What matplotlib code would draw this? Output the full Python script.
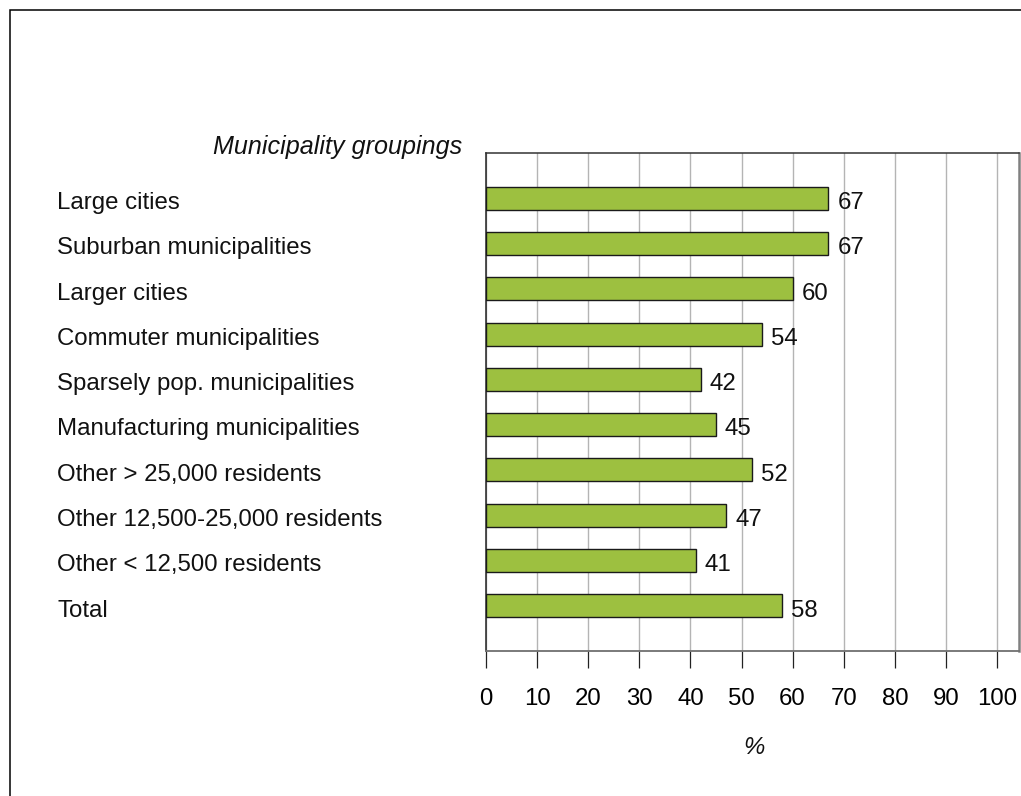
import matplotlib
matplotlib.use("Agg")
import matplotlib.pyplot as plt
from matplotlib.patches import Rectangle
from matplotlib.transforms import blended_transform_factory, offset_copy

plt.rcParams['font.family'] = ['Liberation Sans', 'DejaVu Sans']

categories = [
    "Large cities",
    "Suburban municipalities",
    "Larger cities",
    "Commuter municipalities",
    "Sparsely pop. municipalities",
    "Manufacturing municipalities",
    "Other > 25,000 residents",
    "Other 12,500-25,000 residents",
    "Other < 12,500 residents",
    "Total",
]
values = [67, 67, 60, 54, 42, 45, 52, 47, 41, 58]
x_ticks = [0, 10, 20, 30, 40, 50, 60, 70, 80, 90, 100]

FS = 17.3
W, H = 1021, 796
fig = plt.figure(figsize=(W / 100, H / 100), dpi=100)
ax = fig.add_axes([486 / W, 1 - 651 / H, 533 / W, 498 / H])

n = len(categories)
ypos = list(range(n - 1, -1, -1))

ax.barh(ypos, values, height=0.51, color="#9dc040", edgecolor="#1a1a1a",
        linewidth=1.0, zorder=3)

ax.set_xlim(0, 104.3)
ax.set_ylim(-1, n)
ax.set_xticks(x_ticks)
ax.set_xticklabels([str(t) for t in x_ticks], fontsize=FS)
ax.set_yticks([])
ax.tick_params(axis="x", direction="out", length=12.2, width=0.9,
               color="#222222", pad=14.5)
ax.xaxis.grid(True, color="#b4b4b4", linewidth=1.0, zorder=0)
ax.set_axisbelow(True)

ax.spines["top"].set_color("#333333")
ax.spines["top"].set_linewidth(1.1)
ax.spines["left"].set_color("#222222")
ax.spines["left"].set_linewidth(1.1)
ax.spines["right"].set_color("#808080")
ax.spines["right"].set_linewidth(1.8)
ax.spines["bottom"].set_color("#707070")
ax.spines["bottom"].set_linewidth(1.3)

for y, v in zip(ypos, values):
    ax.annotate(str(v), xy=(v, y), xytext=(6.5, -3.5), textcoords="offset points",
                ha="left", va="center", fontsize=FS, color="#111111")

trans = blended_transform_factory(fig.transFigure, ax.transData)
trans = offset_copy(trans, fig=fig, x=0, y=-3.5, units="points")
for y, c in zip(ypos, categories):
    ax.text(57 / W, y, c, transform=trans, ha="left", va="center",
            fontsize=FS, color="#111111")

fig.text(462 / W, 1 - 147 / H, "Municipality groupings", ha="right",
         va="center", fontsize=18.1, style="italic", color="#111111")
fig.text(754 / W, 1 - 748 / H, "%", ha="center", va="center",
         fontsize=FS, style="italic", color="#111111")

# outer frame running off the right and bottom edges
frame = Rectangle((9.5 / W, -0.1), 1.2, 1 - 9.5 / H + 0.1,
                  transform=fig.transFigure, fill=False,
                  edgecolor="black", linewidth=1.1, clip_on=False)
fig.patches.append(frame)

fig.savefig("out.png", dpi=100, facecolor="white")
